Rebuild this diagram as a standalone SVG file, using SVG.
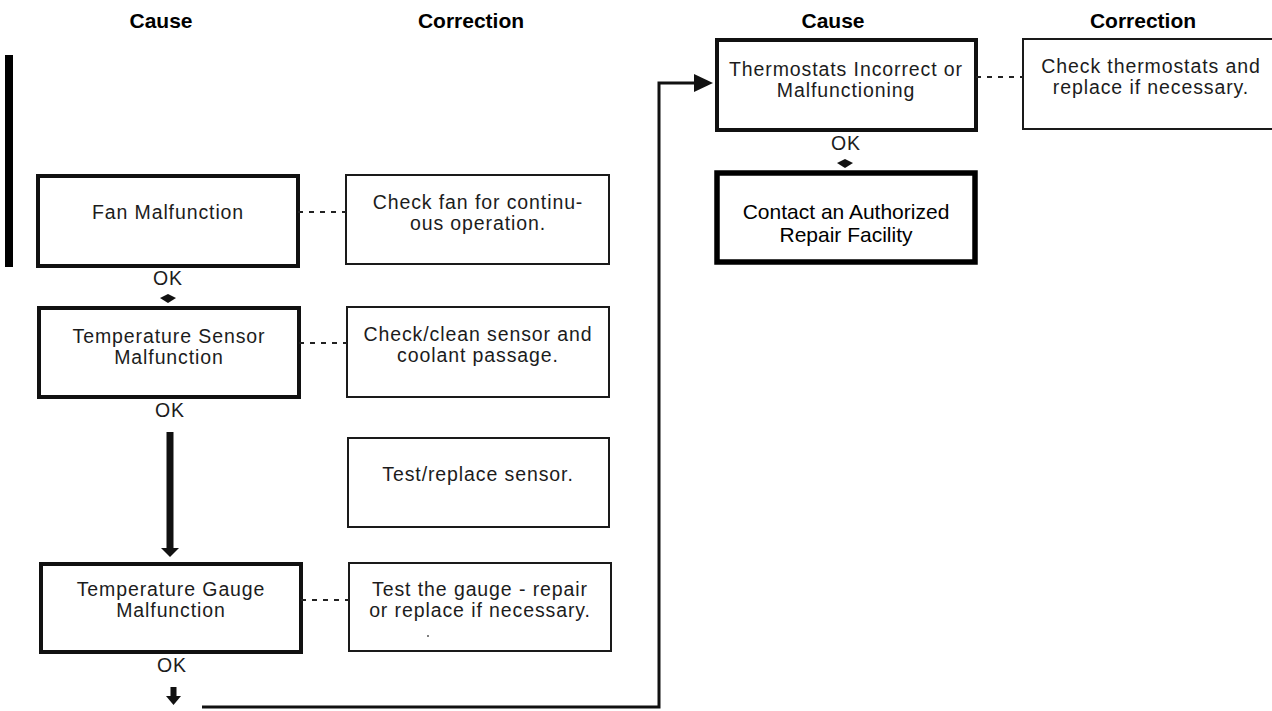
<svg xmlns="http://www.w3.org/2000/svg" width="1272" height="711" viewBox="0 0 1272 711">
<defs>
<style>
.hd{font-family:"Liberation Sans",Arial,sans-serif;font-weight:bold;font-size:21px;fill:#000;text-anchor:middle}
.t{font-family:"Liberation Sans",Arial,sans-serif;font-size:19.5px;fill:#1c1c1c;text-anchor:middle;letter-spacing:0.9px}
.t2{font-family:"Liberation Sans",Arial,sans-serif;font-size:21px;fill:#000;text-anchor:middle}
.cause{fill:#fff;stroke:#111;stroke-width:4}
.corr{fill:#fff;stroke:#1a1a1a;stroke-width:2}
.final{fill:#fff;stroke:#000;stroke-width:5.5}
.dash{stroke:#222;stroke-width:2;stroke-dasharray:5 6;fill:none}
.conn{stroke:#111;fill:none}
</style>
<marker id="bigArrow" markerUnits="userSpaceOnUse" markerWidth="20" markerHeight="20" refX="0" refY="9" orient="auto">
<path d="M0,0 L19,9 L0,18 z" fill="#111"/>
</marker>
</defs>
<rect width="1272" height="711" fill="#fff"/>

<g id="headings">
<text class="hd" x="161" y="28">Cause</text>
<text class="hd" x="471" y="28">Correction</text>
<text class="hd" x="833" y="28">Cause</text>
<text class="hd" x="1143" y="28">Correction</text>
</g>

<g id="sidebar"><rect x="5" y="55" width="8" height="212" fill="#000"/></g>

<g id="fan">
<rect class="cause" x="38" y="176" width="260" height="90"/>
<text class="t" x="168" y="219">Fan Malfunction</text>
</g>
<g id="fan-fix">
<rect class="corr" x="346" y="175" width="263" height="89"/>
<text class="t" x="478" y="209">Check fan for continu-</text>
<text class="t" x="478" y="230">ous operation.</text>
</g>

<g id="sensor">
<rect class="cause" x="39" y="308" width="260" height="89"/>
<text class="t" x="169" y="343">Temperature Sensor</text>
<text class="t" x="169" y="364">Malfunction</text>
</g>
<g id="sensor-fix">
<rect class="corr" x="347" y="307" width="262" height="90"/>
<text class="t" x="478" y="341">Check/clean sensor and</text>
<text class="t" x="478" y="362">coolant passage.</text>
</g>
<g id="sensor-fix2">
<rect class="corr" x="348" y="438" width="261" height="89"/>
<text class="t" x="478" y="481">Test/replace sensor.</text>
</g>

<g id="gauge">
<rect class="cause" x="41" y="564" width="260" height="88"/>
<text class="t" x="171" y="596">Temperature Gauge</text>
<text class="t" x="171" y="617">Malfunction</text>
</g>
<g id="gauge-fix">
<rect class="corr" x="349" y="563" width="262" height="88"/>
<text class="t" x="480" y="596">Test the gauge - repair</text>
<text class="t" x="480" y="617">or replace if necessary.</text>
<circle cx="428" cy="636" r="1" fill="#555"/>
</g>

<g id="thermostats">
<rect class="cause" x="717" y="40" width="259" height="90"/>
<text class="t" x="846" y="76">Thermostats Incorrect or</text>
<text class="t" x="846" y="97">Malfunctioning</text>
</g>
<g id="thermostats-fix">
<rect class="corr" x="1023" y="39" width="260" height="90"/>
<text class="t" x="1151" y="73">Check thermostats and</text>
<text class="t" x="1151" y="94">replace if necessary.</text>
</g>

<g id="contact">
<rect class="final" x="717" y="173" width="258" height="89"/>
<text class="t2" x="846" y="219">Contact an Authorized</text>
<text class="t2" x="846" y="242">Repair Facility</text>
</g>

<g id="connectors">
<line class="dash" x1="298" y1="212" x2="346" y2="212"/>
<line class="dash" x1="299" y1="343" x2="347" y2="343"/>
<line class="dash" x1="301" y1="600" x2="349" y2="600"/>
<line class="dash" x1="976" y1="77" x2="1023" y2="77"/>

<text class="t" x="168" y="285">OK</text>
<polygon points="160,298 168,294 176,298 168,303" fill="#111"/>

<text class="t" x="170" y="417">OK</text>
<line class="conn" x1="170" y1="432" x2="170" y2="550" stroke-width="7"/>
<polygon points="161,548 179,548 170,557" fill="#111"/>

<text class="t" x="172" y="672">OK</text>
<rect x="170.5" y="687" width="6" height="10" fill="#111"/>
<polygon points="166,696 181,696 173.5,705" fill="#111"/>

<path class="conn" d="M202,707 H659 V83 H694" stroke-width="3" marker-end="url(#bigArrow)"/>

<text class="t" x="846" y="150">OK</text>
<polygon points="837,163 845,159 853,163 845,168" fill="#111"/>
</g>
</svg>
